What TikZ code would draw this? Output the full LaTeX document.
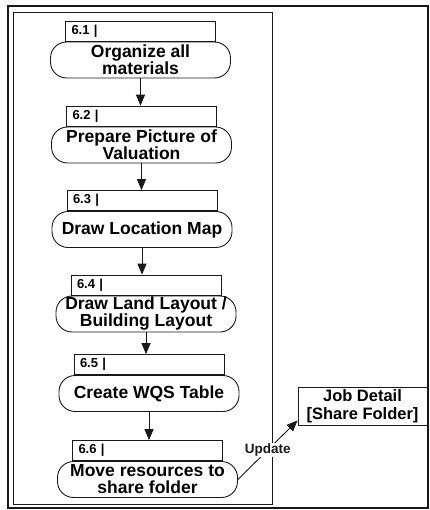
\documentclass[tikz,border=0pt]{standalone}
\usepackage{fontspec}
\setmainfont{Liberation Sans}
\usetikzlibrary{arrows.meta, positioning}
\definecolor{inkcolor}{RGB}{25,25,25}
\tikzset{
  stepbody/.style = {draw=inkcolor, line width=0.9pt, rounded corners=16pt, fill=white,
                     minimum width=180pt, minimum height=36pt, align=center, inner sep=0pt,
                     font=\fontsize{17.5}{17}\selectfont\bfseries},
  stephead/.style = {draw=inkcolor, line width=0.9pt, fill=white, minimum height=20pt,
                     text width=138pt, align=left, inner xsep=6pt, inner ysep=0pt,
                     font=\fontsize{13}{13}\selectfont\bfseries},
  jobbox/.style   = {draw=inkcolor, line width=0.9pt, fill=white, minimum width=129pt,
                     minimum height=38pt, align=center, inner sep=0pt,
                     font=\fontsize{16.5}{18}\selectfont\bfseries},
  arrow/.style    = {-{Triangle[length=11pt, width=9pt]}, line width=0.9pt, color=inkcolor},
  updlabel/.style = {fill=white, inner sep=1pt, font=\fontsize{13.5}{13}\selectfont\bfseries},
  frame/.style    = {draw=inkcolor, line width=1.4pt},
  lane/.style     = {draw=inkcolor, line width=0.9pt},
}

\begin{document}
\begin{tikzpicture}[x=1pt, y=-1pt]
  \useasboundingbox (0,0) rectangle (429,510);
  % frames
  \draw[frame] (8,6) rectangle (428,508);
  \draw[lane] (13,12) rectangle (272,504);
  % activity steps
  \foreach \i/\x/\y/\txt in {1/140.5/60/{Organize all\\materials},
                             2/141.5/145/{Prepare Picture of\\Valuation},
                             3/142/229.5/{Draw Location Map},
                             4/146/314/{Draw Land Layout /\\Building Layout},
                             5/149/393.5/{Create WQS Table},
                             6/147.5/479.5/{Move resources to\\share folder}} {
    \node[stepbody] (b\i) at (\x,\y) {\txt};
    \node[stephead, anchor=south] (h\i) at (b\i.north) {6.\i\ |};
  }
  % flow
  \foreach \i [evaluate=\i as \j using int(\i+1)] in {1,...,5} {
    \draw[arrow] (b\i.south) -- (b\i.south |- h\j.north);
  }
  % share folder
  \node[jobbox] (job) at (362.5,406) {Job Detail\\{[}Share Folder{]}};
  \draw[arrow] (b6.east) -- node[updlabel] {Update} ([yshift=5pt]job.south west);
\end{tikzpicture}
\end{document}
